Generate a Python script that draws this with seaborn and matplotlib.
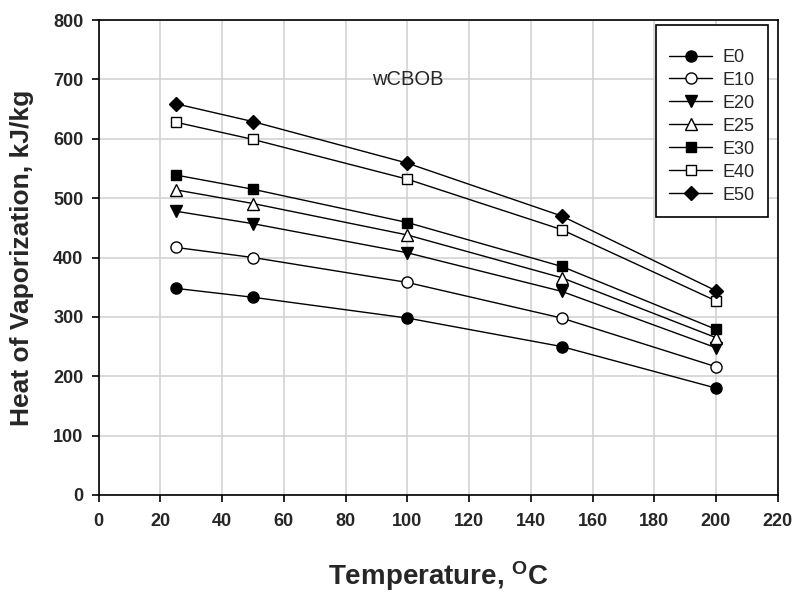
import matplotlib
matplotlib.use("Agg")
import matplotlib.pyplot as plt
import seaborn as sns
import pandas as pd

temps = [25, 50, 100, 150, 200]
E0 = [348, 333, 298, 250, 180]
E10 = [417, 400, 358, 298, 216]
E20 = [478, 457, 408, 343, 248]
E25 = [514, 491, 438, 366, 265]
E30 = [539, 515, 459, 385, 279]
E40 = [628, 599, 532, 447, 327]
E50 = [659, 629, 559, 470, 344]
series_names = ["E0", "E10", "E20", "E25", "E30", "E40", "E50"]
series_vals = [E0, E10, E20, E25, E30, E40, E50]
xticks = list(range(0, 221, 20))
yticks = list(range(0, 801, 100))

sns.set_theme(style="white")
fam = ["Liberation Sans Narrow", "Liberation Sans", "DejaVu Sans"]
plt.rcParams["font.family"] = fam
plt.rcParams["mathtext.fontset"] = "custom"
plt.rcParams["mathtext.bf"] = "Liberation Sans:bold"
plt.rcParams["mathtext.rm"] = "Liberation Sans"

fig = plt.figure(figsize=(7.96, 5.92), dpi=100)
ax = fig.add_axes([0.124, 0.164, 0.853, 0.802])

styles = [
    ("o", "black"), ("o", "white"), ("v", "black"), ("^", "white"),
    ("s", "black"), ("s", "white"), ("D", "black"),
]
for name, vals, (mk, fc) in zip(series_names, series_vals, styles):
    df = pd.DataFrame({"T": temps, "H": vals})
    ms = {"o": 8, "s": 7.5, "v": 8.5, "^": 8.5, "D": 7}[mk]
    sns.lineplot(data=df, x="T", y="H", ax=ax, color="black", linewidth=1.0,
                 marker=mk, markersize=ms, markerfacecolor=fc,
                 markeredgecolor="black", markeredgewidth=1.0, label=name)

ax.set_xlim(0, 220)
ax.set_ylim(0, 800)
ax.set_xticks(xticks)
ax.set_yticks(yticks)
ax.grid(True, color="#d0d0d0", linewidth=1.1)
ax.set_axisbelow(True)
for s in ax.spines.values():
    s.set_color("black")
    s.set_linewidth(1.2)
ax.tick_params(axis="both", which="major", direction="out", length=5, width=1.2,
               color="black", labelsize=13, bottom=True, left=True)
ax.tick_params(axis="x", pad=8)
ax.tick_params(axis="y", pad=6)
for lab in ax.get_xticklabels() + ax.get_yticklabels():
    lab.set_fontweight("bold")

ax.set_xlabel(r"Temperature, $\mathbf{^{O}}$C", fontsize=20, fontweight="bold",
              family=["Liberation Sans", "DejaVu Sans"], labelpad=21)
ax.set_ylabel("Heat of Vaporization, kJ/kg", fontsize=19, fontweight="bold",
              family=["Liberation Sans", "DejaVu Sans"], labelpad=14)

ax.text(100, 700, "wCBOB", fontsize=14.5, ha="center", va="center",
        family=["Liberation Sans", "DejaVu Sans"])

leg = ax.legend(loc="upper right", bbox_to_anchor=(0.9857, 0.989), borderaxespad=0,
                fancybox=False, framealpha=1, edgecolor="black", handlelength=2.4,
                labelspacing=0.33, borderpad=0.75, handletextpad=0.55,
                title=" ", title_fontsize=2,
                prop={"family": ["Liberation Sans", "DejaVu Sans"], "size": 13})
leg.get_frame().set_linewidth(1.2)

fig.savefig("out.png", dpi=100)
